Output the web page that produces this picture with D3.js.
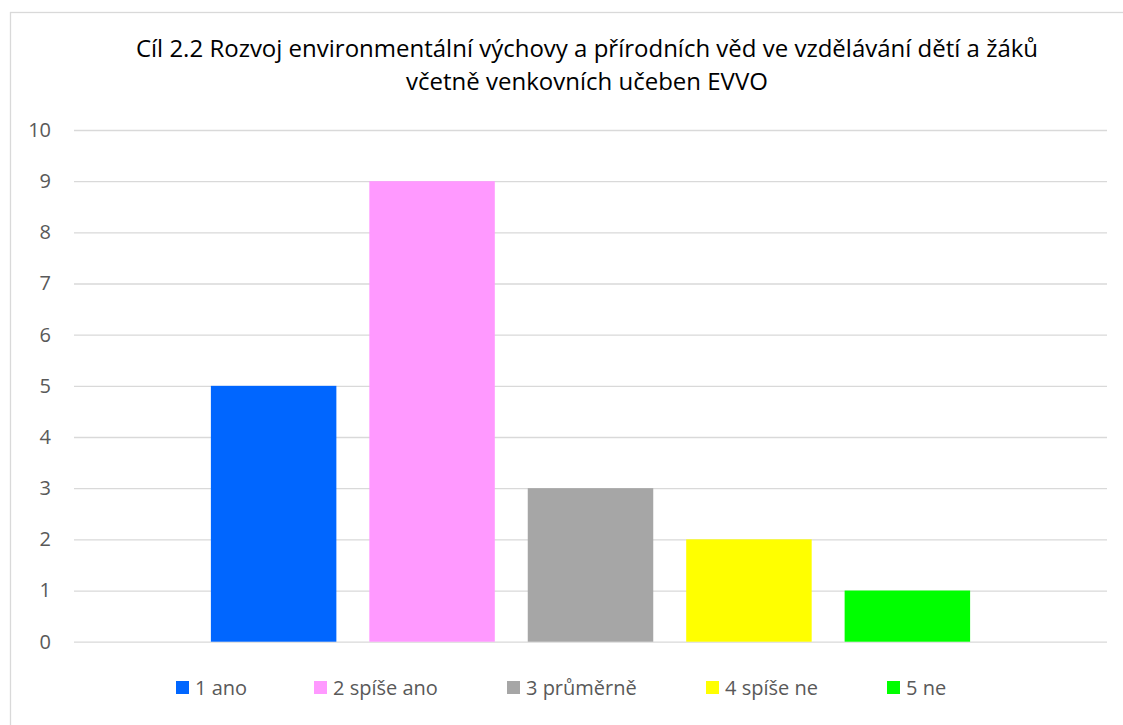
<!DOCTYPE html>
<html>
<head>
<meta charset="utf-8">
<script src="https://cdn.jsdelivr.net/npm/d3@7"></script>
<style>
  body { margin: 0; background: #fff; }
  text { font-family: "Open Sans", "Noto Sans", sans-serif; }
</style>
</head>
<body>
<script>
/* Data */
var titleLines = ["Cíl 2.2 Rozvoj environmentální výchovy a přírodních věd ve vzdělávání dětí a žáků",
                  "včetně venkovních učeben EVVO"];
var series = ["1 ano", "2 spíše ano", "3 průměrně", "4 spíše ne", "5 ne"];
var values = [5, 9, 3, 2, 1];
var colors = ["#0066FF", "#FF99FF", "#A6A6A6", "#FFFF00", "#00FF00"];
var yTicks = [0, 1, 2, 3, 4, 5, 6, 7, 8, 9, 10];

/* Layout */
var W = 1123, H = 725;
var plot = {left: 74, right: 1107, top: 130, bottom: 641.7};
var legendX = [176, 314, 507, 706, 887];

var svg = d3.select("body").append("svg")
    .attr("width", W)
    .attr("height", H);

/* chart area border */
svg.append("rect")
    .attr("x", 10.5).attr("y", 12.5)
    .attr("width", W + 10).attr("height", H + 10)
    .attr("fill", "#fff")
    .attr("stroke", "#d9d9d9")
    .attr("stroke-width", 1.3);

/* Title */
svg.append("g").selectAll("text")
    .data(titleLines)
    .enter().append("text")
    .attr("x", 587)
    .attr("y", function(d, i) { return 57 + i * 33; })
    .attr("text-anchor", "middle")
    .attr("fill", "#000")
    .style("font-size", "24px")
    .text(function(d) { return d; });

/* Scales */
var x = d3.scaleBand()
    .domain(series)
    .range([plot.left, plot.right])
    .paddingInner(0.208)
    .paddingOuter(0.864);

var y = d3.scaleLinear()
    .domain([0, 10])
    .range([plot.bottom, plot.top]);

/* Gridlines + y axis labels */
var yAxis = d3.axisLeft(y)
    .tickValues(yTicks)
    .tickSize(-(plot.right - plot.left))
    .tickPadding(23);

var gy = svg.append("g")
    .attr("transform", "translate(" + plot.left + ",0)")
    .call(yAxis);
gy.select(".domain").remove();
gy.selectAll(".tick line")
    .attr("stroke", "#d9d9d9")
    .attr("stroke-width", 1.3);
gy.selectAll(".tick text")
    .attr("fill", "#595959")
    .style("font-size", "20px")
    .style("font-family", "'Open Sans', sans-serif");

/* Bars */
svg.append("g").selectAll("rect")
    .data(values)
    .enter().append("rect")
    .attr("x", function(d, i) { return x(series[i]); })
    .attr("y", function(d) { return y(d); })
    .attr("width", x.bandwidth())
    .attr("height", function(d) { return y(0) - y(d); })
    .attr("fill", function(d, i) { return colors[i]; });

/* Legend */
var legend = svg.append("g").selectAll("g")
    .data(series)
    .enter().append("g")
    .attr("transform", function(d, i) { return "translate(" + legendX[i] + ",681)"; });

legend.append("rect")
    .attr("width", 13)
    .attr("height", 13)
    .attr("fill", function(d, i) { return colors[i]; });

legend.append("text")
    .attr("x", 19)
    .attr("y", 13.5)
    .attr("fill", "#595959")
    .style("font-size", "20px")
    .text(function(d) { return d; });
</script>
</body>
</html>
